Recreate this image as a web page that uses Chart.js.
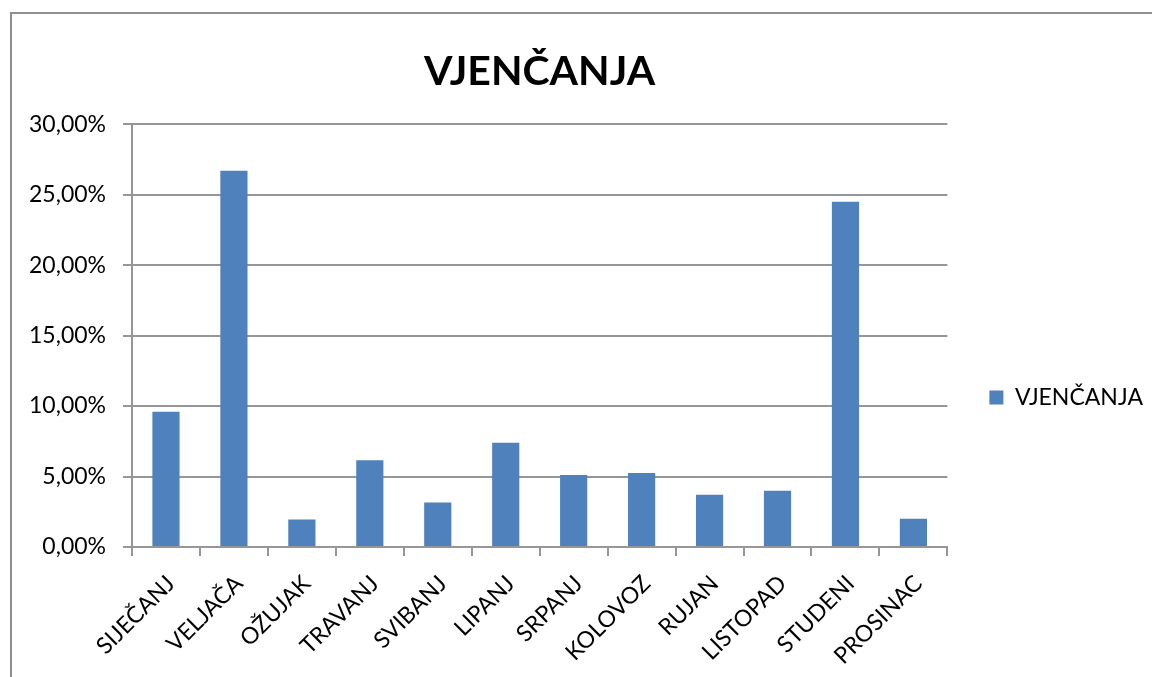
<!DOCTYPE html>
<html>
<head>
<meta charset="utf-8">
<script src="https://cdn.jsdelivr.net/npm/chart.js@4.4.1/dist/chart.umd.min.js"></script>
<style>
    html, body { margin: 0; padding: 0; background: #fff; overflow: hidden; }
    #wrap { position: relative; width: 1152px; height: 677px; }
    #frame { position: absolute; left: 10px; top: 12px; width: 1200px; height: 700px; border: 2px solid #8e8e8e; box-sizing: border-box; }
    #myChart { position: absolute; left: 0; top: 0; }
</style>
</head>
<body>
<div id="wrap">
    <div id="frame"></div>
    <canvas id="myChart" width="1152" height="677"></canvas>
</div>
<script>
// mjeseci i udio vjenčanja (%)
const months = ['SIJEČANJ', 'VELJAČA', 'OŽUJAK', 'TRAVANJ', 'SVIBANJ', 'LIPANJ',
    'SRPANJ', 'KOLOVOZ', 'RUJAN', 'LISTOPAD', 'STUDENI', 'PROSINAC'];
const vjencanja = [9.6, 26.7, 1.95, 6.15, 3.15, 7.4, 5.1, 5.25, 3.7, 4.0, 24.5, 2.0];
const yTicks = [0, 5, 10, 15, 20, 25, 30];

const font = "Lato";
const gridColor = '#969696';

// pomakni legendu dolje, kao u originalu
const legendShift = {
    id: 'legendShift',
    afterLayout(chart) {
        const lg = chart.legend;
        if (!lg) return;
        lg.top += 53;
        lg.bottom += 53;
    }
};

new Chart(document.getElementById('myChart'), {
    type: 'bar',
    data: {
        labels: months,
        datasets: [{
            label: 'VJENČANJA',
            data: vjencanja,
            backgroundColor: '#4f81bd',
            borderWidth: 0,
            categoryPercentage: 1.0,
            barPercentage: 0.4
        }]
    },
    options: {
        responsive: false,
        animation: false,
        layout: { padding: { left: 0, right: -1, top: 12, bottom: 0 } },
        plugins: {
            title: {
                display: true,
                text: 'VJENČANJA',
                color: '#000',
                fullSize: false,
                font: { family: font, size: 41, weight: 'bold' },
                padding: { top: 35, bottom: 28 }
            },
            legend: {
                position: 'right',
                labels: {
                    color: '#000',
                    font: { family: font, size: 23 },
                    boxWidth: 14,
                    boxHeight: 14,
                    padding: 42
                }
            },
            tooltip: { enabled: false }
        },
        scales: {
            x: {
                offset: true,
                grid: {
                    offset: true,
                    drawOnChartArea: false,
                    drawTicks: true,
                    tickLength: 9,
                    color: gridColor,
                    lineWidth: 2
                },
                border: { color: gridColor, width: 2 },
                ticks: {
                    color: '#000',
                    font: { family: font, size: 23 },
                    minRotation: 45,
                    maxRotation: 45,
                    padding: 14,
                    labelOffset: 5
                },
                afterFit: (scale) => { scale.height = 130; }
            },
            y: {
                min: 0,
                max: 30,
                afterBuildTicks: (scale) => { scale.ticks = yTicks.map(v => ({ value: v })); },
                grid: {
                    color: gridColor,
                    lineWidth: 2,
                    tickLength: 9
                },
                border: { color: gridColor, width: 2 },
                ticks: {
                    color: '#000',
                    font: { family: font, size: 23 },
                    padding: 17,
                    callback: (v) => v.toFixed(2).replace('.', ',') + '%'
                },
                afterFit: (scale) => { scale.width = 132; }
            }
        }
    },
    plugins: [legendShift]
});
</script>
</body>
</html>
